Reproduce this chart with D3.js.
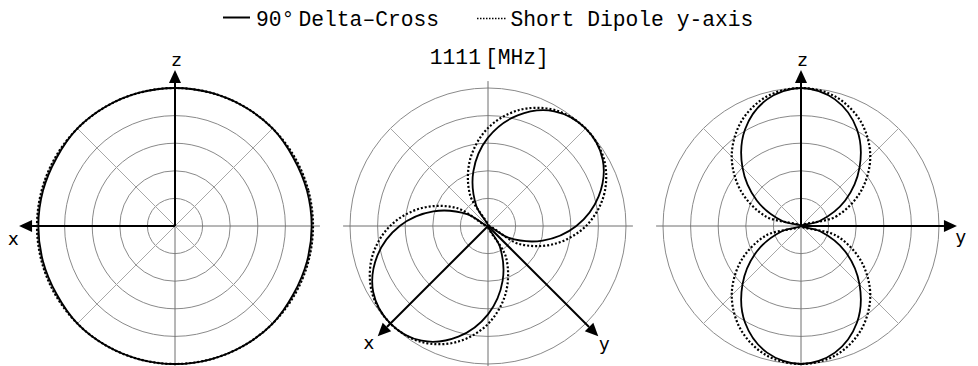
<!DOCTYPE html>
<html>
<head>
<meta charset="utf-8">
<script src="https://cdn.jsdelivr.net/npm/d3@7"></script>
<style>
  body { margin: 0; background: #fff; }
  svg { display: block; }
  .mono { font-family: "Liberation Mono", monospace; font-size: 21.3px; fill: #000; }
  .axlab { font-family: "DejaVu Sans", sans-serif; font-size: 18px; fill: #000; }
</style>
</head>
<body>
<svg id="chart" width="978" height="366"></svg>
<script>
// sample angles (deg, counter-clockwise from screen right)
const angles = [0, 15, 30, 45, 60, 75, 90, 105, 120, 135, 150, 165,
                180, 195, 210, 225, 240, 255, 270, 285, 300, 315, 330, 345];

// normalised field patterns
// xz plane
const xzDelta  = [0.99, 0.99, 0.99, 1.0, 1.0, 1.0, 1.0, 1.0, 1.0, 1.0, 0.99, 0.99,
                  0.99, 0.99, 0.99, 1.0, 1.0, 1.0, 1.0, 1.0, 1.0, 1.0, 0.99, 0.99];
const xzDipole = [1.0, 1.0, 1.0, 1.0, 1.0, 1.0, 1.0, 1.0, 1.0, 1.0, 1.0, 1.0,
                  1.0, 1.0, 1.0, 1.0, 1.0, 1.0, 1.0, 1.0, 1.0, 1.0, 1.0, 1.0];
// xy plane
const xyDelta  = [0.64, 0.83, 0.96, 1.0, 0.96, 0.83, 0.64, 0.41, 0.17, 0.0, 0.17, 0.41,
                  0.64, 0.83, 0.96, 1.0, 0.96, 0.83, 0.64, 0.41, 0.17, 0.0, 0.17, 0.41];
const xyDipole = [0.71, 0.87, 0.97, 1.0, 0.97, 0.87, 0.71, 0.50, 0.26, 0.0, 0.26, 0.50,
                  0.71, 0.87, 0.97, 1.0, 0.97, 0.87, 0.71, 0.50, 0.26, 0.0, 0.26, 0.50];
// yz plane
const yzDelta  = [0.0, 0.14, 0.37, 0.60, 0.81, 0.95, 1.0, 0.95, 0.81, 0.60, 0.37, 0.14,
                  0.0, 0.14, 0.37, 0.60, 0.81, 0.95, 1.0, 0.95, 0.81, 0.60, 0.37, 0.14];
const yzDipole = [0.0, 0.26, 0.50, 0.71, 0.87, 0.97, 1.0, 0.97, 0.87, 0.71, 0.50, 0.26,
                  0.0, 0.26, 0.50, 0.71, 0.87, 0.97, 1.0, 0.97, 0.87, 0.71, 0.50, 0.26];

const ringTicks = [0.2, 0.4, 0.6, 0.8, 1.0];
const spokeAngles = [0, 45, 90, 135, 180, 225, 270, 315];
const seriesNames = ["90°", "Delta–Cross", "Short Dipole y-axis"];
const titleParts = ["1111", "[MHz]"];

const svg = d3.select("#chart");
const cy = 226;
const r = d3.scaleLinear().domain([0, 1]).range([0, 138]);
const rad = d => d * Math.PI / 180;

const panels = [
  { cx: 175, delta: xzDelta, dipole: xzDipole,
    axes: [{ ang: 90, label: "z", lx: 1.5, ly: -4 }, { ang: 180, label: "x", lx: -5.7, ly: 19 }] },
  { cx: 488, delta: xyDelta, dipole: xyDipole,
    axes: [{ ang: 225, label: "x", lx: -9, ly: 13 }, { ang: 315, label: "y", lx: 6, ly: 14 }] },
  { cx: 801, delta: yzDelta, dipole: yzDipole,
    axes: [{ ang: 90, label: "z", lx: 1.5, ly: -4 }, { ang: 0, label: "y", lx: 4, ly: 17 }] }
];

// d3 radial angle: clockwise from 12 o'clock
const radial = d3.lineRadial()
  .angle(d => rad(90 - d[0]))
  .radius(d => r(d[1]))
  .curve(d3.curveCatmullRomClosed.alpha(0.5));

panels.forEach(p => {
  const g = svg.append("g").attr("transform", `translate(${p.cx},${cy})`);

  // rings
  g.selectAll("circle.ring").data(ringTicks).enter().append("circle")
    .attr("class", "ring")
    .attr("r", d => r(d))
    .attr("fill", "none")
    .attr("stroke", "#8a8a8a")
    .attr("stroke-width", 1);

  // spokes: the four main ones run a bit past the outer ring
  g.selectAll("line.spoke").data(spokeAngles).enter().append("line")
    .attr("class", "spoke")
    .attr("x1", 0).attr("y1", 0)
    .attr("x2", d => r(d % 90 === 0 ? 1.05 : 1) * Math.cos(rad(d)))
    .attr("y2", d => -r(d % 90 === 0 ? 1.05 : 1) * Math.sin(rad(d)))
    .attr("stroke", d => d % 90 === 0 ? "#6e6e6e" : "#a8a8a8")
    .attr("stroke-width", 1);

  // patterns
  g.append("path")
    .datum(angles.map((a, i) => [a, p.delta[i]]))
    .attr("d", radial)
    .attr("fill", "none")
    .attr("stroke", "#000")
    .attr("stroke-width", 1.8);

  g.append("path")
    .datum(angles.map((a, i) => [a, p.dipole[i]]))
    .attr("d", radial)
    .attr("fill", "none")
    .attr("stroke", "#000")
    .attr("stroke-width", 2.2)
    .attr("stroke-dasharray", "2,2");

  // coordinate axes with arrow heads
  p.axes.forEach(ax => {
    const ux = Math.cos(rad(ax.ang)), uy = -Math.sin(rad(ax.ang));
    const tip = r(1.13), base = r(1.13) - 13;
    g.append("line")
      .attr("x1", 0).attr("y1", 0)
      .attr("x2", base * ux).attr("y2", base * uy)
      .attr("stroke", "#000").attr("stroke-width", 2);
    const bx = base * ux, by = base * uy, px = -uy, py = ux;
    g.append("polygon")
      .attr("points", [[tip * ux, tip * uy], [bx + 6 * px, by + 6 * py], [bx - 6 * px, by - 6 * py]]
        .map(q => q.join(",")).join(" "))
      .attr("fill", "#000");
    g.append("text")
      .attr("class", "axlab")
      .attr("x", tip * ux + ax.lx)
      .attr("y", tip * uy + ax.ly)
      .attr("text-anchor", "middle")
      .text(ax.label);
  });
});

// legend
svg.append("line")
  .attr("x1", 223).attr("x2", 250).attr("y1", 17.5).attr("y2", 17.5)
  .attr("stroke", "#000").attr("stroke-width", 2);
svg.append("text").attr("class", "mono").attr("x", 256).attr("y", 26).text(seriesNames[0]);
svg.append("text").attr("class", "mono").attr("x", 298.5).attr("y", 26).text(seriesNames[1]);

svg.append("line")
  .attr("x1", 477).attr("x2", 507).attr("y1", 18.5).attr("y2", 18.5)
  .attr("stroke", "#000").attr("stroke-width", 1.5)
  .attr("stroke-dasharray", "1.5,1.5");
svg.append("text").attr("class", "mono").attr("x", 510.5).attr("y", 26).text(seriesNames[2]);

// title
svg.append("text").attr("class", "mono").attr("x", 429.8).attr("y", 64).text(titleParts[0]);
svg.append("text").attr("class", "mono").attr("x", 485).attr("y", 64).text(titleParts[1]);
</script>
</body>
</html>
